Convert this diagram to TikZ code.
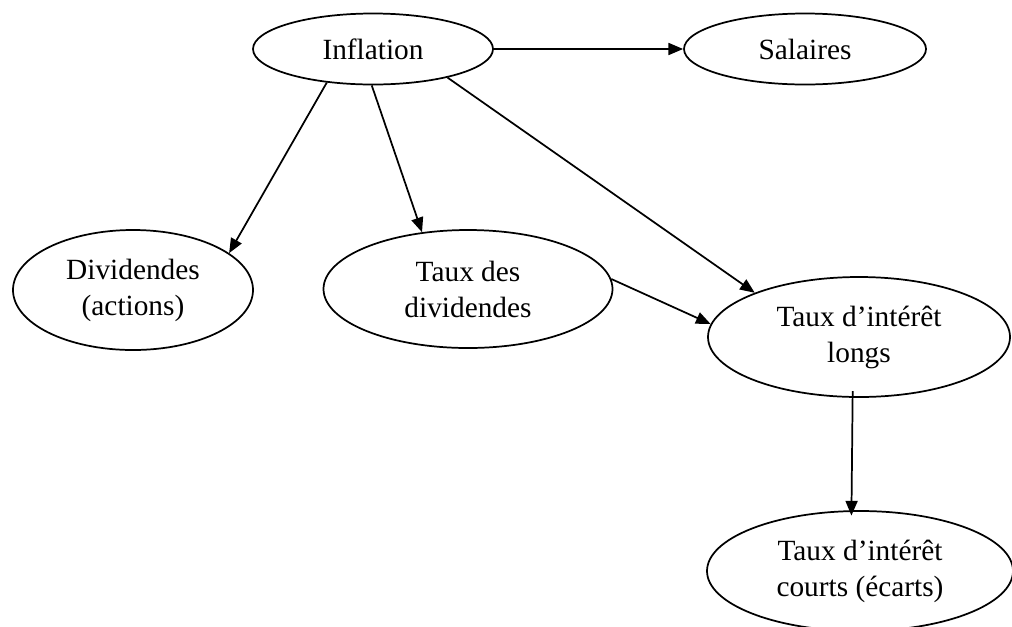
\documentclass[tikz,border=0pt]{standalone}
\usepackage{fontspec}
\setmainfont{Liberation Serif}
\usetikzlibrary{shapes.geometric,arrows.meta}
\begin{document}
\begin{tikzpicture}[x=0.75pt,y=-0.75pt,
  ell/.style={draw=black,line width=1.3pt,ellipse,inner sep=0pt,align=center,
    font=\fontsize{22pt}{27pt}\selectfont},
  arr/.style={draw=black,line width=1.3pt,-{Triangle[length=11pt,width=9pt]}}]
\useasboundingbox (0,0) rectangle (1012,626);
\begin{scope}
\clip (0,0) rectangle (1012,626);
\node[ell,minimum width=180pt,minimum height=53.25pt] (infl) at (373,49) {Inflation};
\node[ell,minimum width=181.5pt,minimum height=53.25pt] (sal) at (805,49) {Salaires};
\node[ell,minimum width=180pt,minimum height=90pt] (div) at (133,290) {Dividendes\\(actions)};
\node[ell,minimum width=216.75pt,minimum height=88.5pt] (taux) at (468,289) {Taux des\\dividendes};
\node[ell,minimum width=226.5pt,minimum height=90pt] (longs) at (859,337) {Taux d’intérêt\\longs};
\node[ell,minimum width=229.5pt,minimum height=90pt] (courts) at (860,571) {Taux d’intérêt\\courts (écarts)};
\end{scope}
\draw[arr] (infl.east) -- (sal.west);
\draw[arr] (infl.216) -- (div.21);
\draw[arr] (infl.268) -- (taux.129);
\draw[arr] (infl.339) -- (longs.157);
\draw[arr] (taux.4) -- (longs.175);
\draw[arr,shorten <=-5pt,shorten >=-4pt] (longs.264) -- (courts.98);
\end{tikzpicture}
\end{document}
